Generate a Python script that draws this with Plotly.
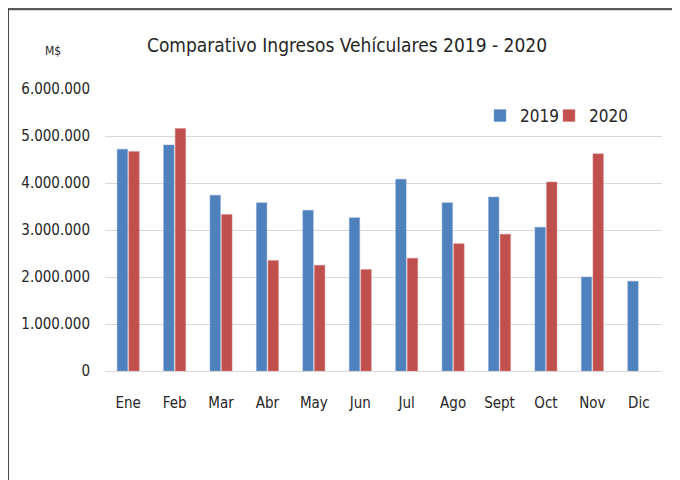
import plotly.graph_objects as go

months = ["Ene", "Feb", "Mar", "Abr", "May", "Jun", "Jul", "Ago", "Sept", "Oct", "Nov", "Dic"]
ingresos_2019 = [4720000, 4810000, 3740000, 3580000, 3420000, 3260000, 4080000, 3580000, 3700000, 3060000, 2000000, 1910000]
ingresos_2020 = [4670000, 5160000, 3330000, 2350000, 2250000, 2160000, 2400000, 2710000, 2910000, 4020000, 4620000, None]
y_ticks = [0, 1000000, 2000000, 3000000, 4000000, 5000000, 6000000]

FONT = "DejaVu Sans Condensed, Liberation Sans Narrow, sans-serif"

OFF = 8  # page body margin
W, H = 680 - OFF, 480 - OFF
L, R, T, B = 105 - OFF, 18, 89 - OFF, 109
pw, ph = W - L - R, H - T - B

def px(x):
    return (x - OFF - L) / pw

def py(y):
    return (H - B - (y - OFF)) / ph

fig = go.Figure()
fig.add_trace(go.Bar(x=months, y=ingresos_2019, name="2019", legend="legend",
                     marker=dict(color="#4F81BD", line=dict(color="#7FA3D1", width=0.5))))
fig.add_trace(go.Bar(x=months, y=ingresos_2020, name="2020", legend="legend2",
                     marker=dict(color="#C0504D", line=dict(color="#D98482", width=0.5))))

leg_common = dict(orientation="h", xanchor="left", yanchor="middle",
                  font=dict(size=17, family=FONT), bgcolor="rgba(0,0,0,0)")

fig.update_layout(
    width=W, height=H,
    margin=dict(l=L, r=R, t=T, b=B, pad=0),
    paper_bgcolor="white", plot_bgcolor="white",
    separators=",.",
    barmode="group", bargap=0.5, bargroupgap=0.1,
    font=dict(family=FONT, color="#262626", size=15),
    title=dict(text="Comparativo Ingresos Vehículares 2019 - 2020",
               x=px(347), xref="paper", xanchor="center",
               y=1 - (45 - OFF) / H, yanchor="middle", font=dict(size=19, color="#262626", family=FONT)),
    showlegend=True,
    legend=dict(x=px(480), y=py(116), **leg_common),
    legend2=dict(x=px(549), y=py(116), **leg_common),
    xaxis=dict(showline=False, ticks="", showgrid=False, tickfont=dict(size=15), ticklabelstandoff=21),
    yaxis=dict(range=[0, 6000000], tickvals=y_ticks, tickformat=",d",
               showgrid=True, gridcolor="#D9D9D9", gridwidth=1, zeroline=True,
               zerolinecolor="#D9D9D9", zerolinewidth=1, ticks="", ticklabelstandoff=14,
               tickfont=dict(size=15), showline=False),
    shapes=[
        dict(type="line", xref="paper", yref="paper", x0=px(7), x1=px(700), y0=py(9), y1=py(9),
             line=dict(color="#5A5A5A", width=2.5)),
        dict(type="line", xref="paper", yref="paper", x0=px(8), x1=px(8), y0=py(8), y1=py(480),
             line=dict(color="#4A4A4A", width=2)),
    ],
    annotations=[
        dict(text="M$", xref="paper", yref="paper", x=px(53), y=py(51), showarrow=False,
             xanchor="center", yanchor="middle", font=dict(size=12, family=FONT, color="#262626")),
    ],
)

fig.write_html("out.html", config={"displayModeBar": False})
